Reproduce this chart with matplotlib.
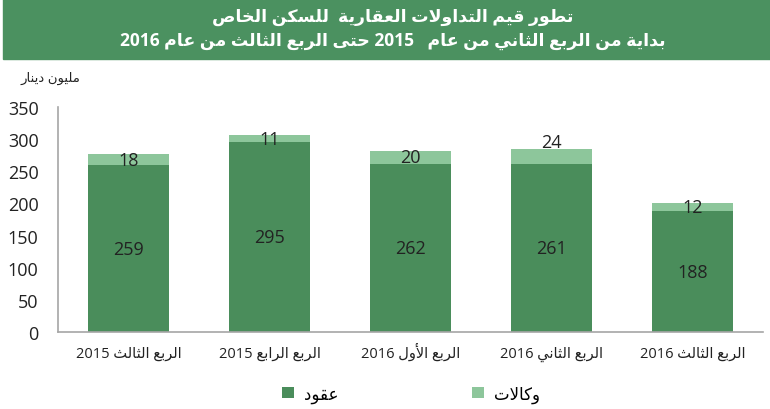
"""
Real estate trading values, private housing, Q3 2015 - Q3 2016
"""

import re
import numpy as np
import matplotlib
matplotlib.use('Agg')
import matplotlib.pyplot as plt
from matplotlib.patches import Rectangle

plt.rcParams['font.family'] = ['Open Sans', 'DejaVu Sans']

#%% data

quarters = ['الربع الثالث', 'الربع الرابع', 'الربع الأول', 'الربع الثاني', 'الربع الثالث']
years = ['2015', '2015', '2016', '2016', '2016']
contracts = [259, 295, 262, 261, 188]     # عقود
agencies = [18, 11, 20, 24, 12]           # وكالات

title1 = 'تطور قيم التداولات العقارية  للسكن الخاص'
title2 = 'بداية من الربع الثاني من عام   2015 حتى الربع الثالث من عام 2016'
unit = 'مليون دينار'
names = ['عقود', 'وكالات']

dark = '#4a8d5b'
light = '#8dc69b'
banner = '#4b9160'

#%% minimal arabic shaping (no reshaper lib available)

DUAL = dict(zip('بتثحخسصطعقكلمني',
                [0xFE8F, 0xFE95, 0xFE99, 0xFEA1, 0xFEA5, 0xFEB1, 0xFEB9, 0xFEC1,
                 0xFEC9, 0xFED5, 0xFED9, 0xFEDD, 0xFEE1, 0xFEE5, 0xFEF1]))
RIGHT = dict(zip('اأةدروى', [0xFE8D, 0xFE83, 0xFE93, 0xFEA9, 0xFEAD, 0xFEED, 0xFEEF]))
LAMALEF = {'ا': 0xFEFB, 'أ': 0xFEF7}


def ar(s):
    out = []
    i = 0
    while i < len(s):
        c = s[i]
        prev = i > 0 and s[i-1] in DUAL
        if c == 'ل' and i + 1 < len(s) and s[i+1] in LAMALEF:
            out.append(chr(LAMALEF[s[i+1]] + prev))
            i += 2
            continue
        if c in DUAL:
            nxt = i + 1 < len(s) and (s[i+1] in DUAL or s[i+1] in RIGHT)
            form = 3 if (prev and nxt) else 1 if prev else 2 if nxt else 0
            out.append(chr(DUAL[c] + form))
        elif c in RIGHT:
            out.append(chr(RIGHT[c] + prev))
        else:
            out.append(c)
        i += 1
    vis = ''.join(out)[::-1]
    return re.sub(r'\d+', lambda m: m.group()[::-1], vis)

#%% plot

fig = plt.figure(figsize=(7.7, 4.1), dpi=100)
ax = fig.add_axes([0.0753, 0.188, 0.9157, 0.5486])

x = np.arange(len(contracts))
b1 = ax.bar(x, contracts, width=0.57, color=dark, label=ar(names[0]))
b2 = ax.bar(x, agencies, width=0.57, bottom=contracts, color=light, label=ar(names[1]))

for i in x:
    ax.text(i, contracts[i] / 2, str(contracts[i]), ha='center', va='center',
            fontsize=13, color='#222222')
    yy = contracts[i] + agencies[i] / 2
    if agencies[i] >= 24:
        yy = contracts[i] + agencies[i] + 10   # this one sits above the bar
    ax.text(i, yy, str(agencies[i]), ha='center', va='center',
            fontsize=13, color='#222222')

ax.set_xlim(-0.5, 4.5)
ax.set_ylim(0, 350)
ax.set_yticks(range(0, 351, 50))
ax.set_xticks(x)
ax.set_xticklabels([ar(q + ' ' + y) for q, y in zip(quarters, years)], fontsize=10.5)
for lbl in ax.get_xticklabels():
    lbl.set_va('baseline')
ax.tick_params(length=0)
ax.tick_params(axis='y', labelsize=13, pad=14, colors='#222222')
ax.tick_params(axis='x', pad=18, colors='#222222')
for s in ['top', 'right']:
    ax.spines[s].set_visible(False)
for s in ['left', 'bottom']:
    ax.spines[s].set_color('#a6a6a6')
    ax.spines[s].set_linewidth(1.2)

# title banner
fig.patches.append(Rectangle((3/770, 1 - 60/410), 1, 60/410, transform=fig.transFigure,
                             color=banner, zorder=0))
fig.text(0.51, 1 - 17/410, ar(title1), ha='center', va='center', color='white',
         fontsize=12.5, fontweight='bold')
fig.text(0.51, 1 - 41/410, ar(title2), ha='center', va='center', color='white',
         fontsize=12.5, fontweight='bold')

fig.text(80/770, 1 - 78/410, ar(unit), ha='right', va='center', fontsize=9.5, color='#222222')

fig.legend(loc='center', bbox_to_anchor=(411/770, 1 - 395/410), ncol=2, frameon=False,
           fontsize=12, handlelength=0.7, handleheight=0.7, handletextpad=0.6,
           columnspacing=8)

plt.savefig('out.png', dpi=100)
